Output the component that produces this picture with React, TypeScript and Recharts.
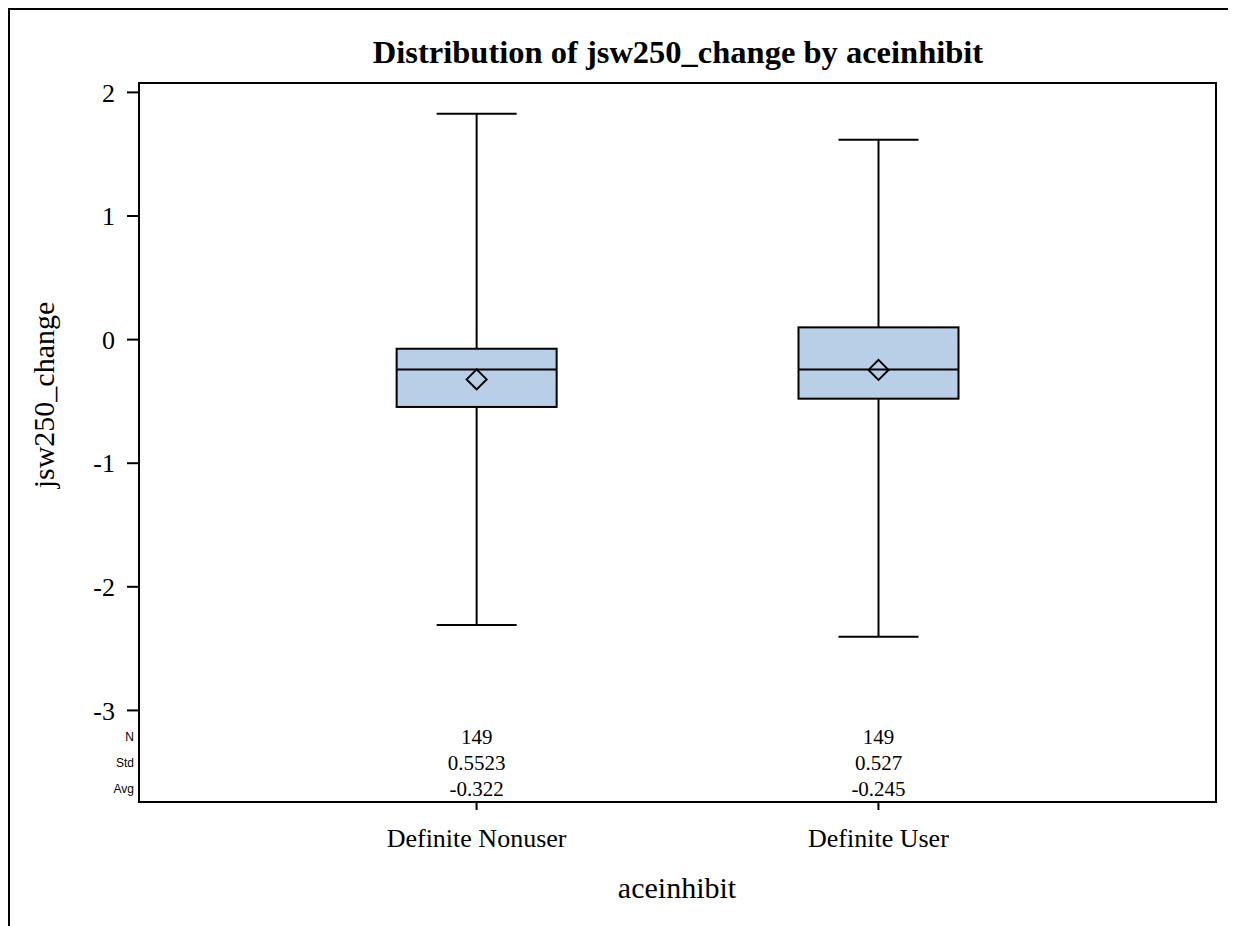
import React from "react";
import { Bar, ComposedChart, ReferenceArea, XAxis, YAxis } from "recharts";

// box plot summary
const groups = ["Definite Nonuser", "Definite User"];
const positions = [1, 2];
const whiskerLow = [-2.309, -2.404];
const q1 = [-0.545, -0.478];
const median = [-0.241, -0.241];
const q3 = [-0.074, 0.099];
const whiskerHigh = [1.828, 1.617];
const means = [-0.322, -0.245];

// inset statistics table
const statRows = ["N", "Std", "Avg"];
const counts = ["149", "149"];
const stds = ["0.5523", "0.527"];
const avgs = ["-0.322", "-0.245"];

const yTicks = [-3, -2, -1, 0, 1, 2];

const rows = positions.map((p, i) => ({
  x: p,
  name: groups[i],
  lo: whiskerLow[i],
  q1: q1[i],
  med: median[i],
  q3: q3[i],
  hi: whiskerHigh[i],
  mean: means[i],
  stats: [counts[i], stds[i], avgs[i]],
}));

const SERIF = "'Liberation Serif', 'Times New Roman', serif";
const SANS = "'Liberation Sans', Arial, sans-serif";
const W = 1226;
const H = 916;
const MARGIN = { top: 73, right: 20, left: 0, bottom: 0 };
const Y_AXIS_W = 129;
const X_AXIS_H = 124;
const PLOT_LEFT = MARGIN.left + Y_AXIS_W;
const Y_DOMAIN: [number, number] = [-3.741, 2.076];
const BOX_FILL = "#B9CFE7";

const BoxShape = (props: any) => {
  const { x, y, width, height, payload, index } = props;
  if (!payload) return null;
  const top = Math.min(y, y + height);
  const bottom = Math.max(y, y + height);
  const per = (bottom - top) / (payload.hi - payload.lo);
  const py = (v: number) => top + (payload.hi - v) * per;
  const cx = x + width / 2;
  const capHalf = width / 4;
  const base = py(-3);
  const rowOffsets = [34, 60, 86];
  const d = 10;
  const my = py(payload.mean);
  return (
    <g>
      <line x1={cx} x2={cx} y1={py(payload.hi)} y2={py(payload.q3)} stroke="#000" strokeWidth={2} />
      <line x1={cx} x2={cx} y1={py(payload.q1)} y2={py(payload.lo)} stroke="#000" strokeWidth={2} />
      <line x1={cx - capHalf} x2={cx + capHalf} y1={py(payload.hi)} y2={py(payload.hi)} stroke="#000" strokeWidth={2} />
      <line x1={cx - capHalf} x2={cx + capHalf} y1={py(payload.lo)} y2={py(payload.lo)} stroke="#000" strokeWidth={2} />
      <rect
        x={x}
        y={py(payload.q3)}
        width={width}
        height={py(payload.q1) - py(payload.q3)}
        fill={BOX_FILL}
        stroke="#000"
        strokeWidth={2}
      />
      <line x1={x} x2={x + width} y1={py(payload.med)} y2={py(payload.med)} stroke="#000" strokeWidth={2} />
      <path
        d={`M${cx},${my - d} L${cx + d},${my} L${cx},${my + d} L${cx - d},${my} Z`}
        fill="none"
        stroke="#000"
        strokeWidth={2}
      />
      {payload.stats.map((s: string, i: number) => (
        <text key={i} x={cx} y={base + rowOffsets[i]} textAnchor="middle" fontFamily={SERIF} fontSize={21} fill="#000">
          {s}
        </text>
      ))}
      {(index === 0 || payload.x === positions[0]) &&
        statRows.map((r, i) => (
          <text
            key={r}
            x={PLOT_LEFT - 5}
            y={base + rowOffsets[i] - 3}
            textAnchor="end"
            fontFamily={SANS}
            fontSize={12}
            fill="#000"
          >
            {r}
          </text>
        ))}
    </g>
  );
};

export default function App() {
  return (
    <div
      style={{
        position: "relative",
        width: 1260,
        height: 916,
        borderTop: "2px solid #000",
        borderLeft: "2px solid #000",
        background: "#fff",
      }}
    >
      <style>{"html, body { overflow: hidden; }"}</style>
      <div
        style={{
          position: "absolute",
          left: 668,
          top: 26,
          transform: "translateX(-50%)",
          whiteSpace: "nowrap",
          fontFamily: SERIF,
          fontWeight: "bold",
          fontSize: 32.5,
          lineHeight: 1,
        }}
      >
        Distribution of jsw250_change by aceinhibit
      </div>
      <div
        style={{
          position: "absolute",
          left: 34,
          top: 385,
          transform: "translate(-50%, -50%) rotate(-90deg)",
          whiteSpace: "nowrap",
          fontFamily: SERIF,
          fontSize: 30,
          lineHeight: 1,
        }}
      >
        jsw250_change
      </div>
      <div
        style={{
          position: "absolute",
          left: 667,
          top: 863,
          transform: "translateX(-50%)",
          whiteSpace: "nowrap",
          fontFamily: SERIF,
          fontSize: 30,
          lineHeight: 1,
        }}
      >
        aceinhibit
      </div>
      <ComposedChart width={W} height={H} data={rows} margin={MARGIN}>
        <XAxis
          dataKey="x"
          type="number"
          domain={[0.16, 2.84]}
          ticks={positions}
          tickFormatter={(v: number) => groups[positions.indexOf(v)] ?? ""}
          height={X_AXIS_H}
          axisLine={false}
          tickLine={{ stroke: "#000", strokeWidth: 2 }}
          tickSize={8}
          tickMargin={19}
          tick={{ fontFamily: SERIF, fontSize: 26, fill: "#000" }}
        />
        <YAxis
          type="number"
          domain={Y_DOMAIN}
          ticks={yTicks}
          width={Y_AXIS_W}
          axisLine={false}
          tickLine={{ stroke: "#000", strokeWidth: 2 }}
          tickSize={12}
          tickMargin={12}
          tick={{ fontFamily: SERIF, fontSize: 26, fill: "#000" }}
        />
        <ReferenceArea
          x1={0.16}
          x2={2.84}
          y1={Y_DOMAIN[0]}
          y2={Y_DOMAIN[1]}
          fill="none"
          stroke="#000"
          strokeWidth={2}
          ifOverflow="visible"
        />
        <Bar
          dataKey={(d: any) => [d.lo, d.hi]}
          barSize={160}
          shape={BoxShape}
          isAnimationActive={false}
        />
      </ComposedChart>
    </div>
  );
}
